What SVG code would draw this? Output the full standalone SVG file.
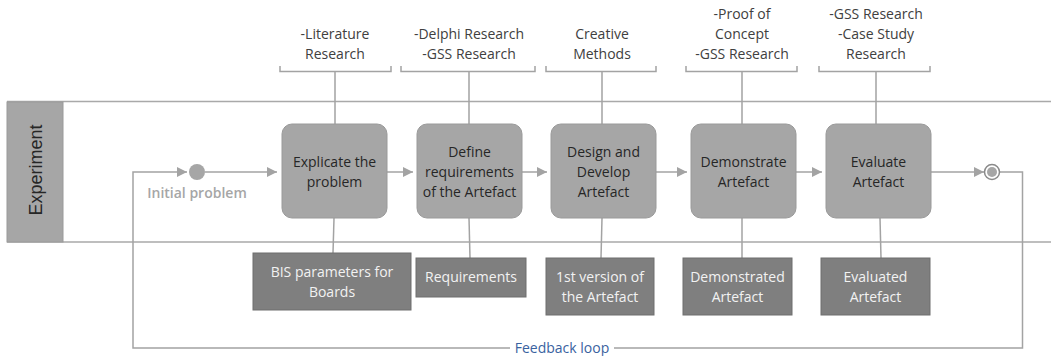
<svg xmlns="http://www.w3.org/2000/svg" width="1051" height="356" viewBox="0 0 1051 356">
  <style>
    .lane { stroke: #a9a9a9; stroke-width: 1.5; fill: none; }
    .wire { stroke: #a3a3a3; stroke-width: 1.5; fill: none; }
    .step { fill: #a6a6a6; stroke: #9a9a9a; stroke-width: 1; }
    .out { fill: #7f7f7f; stroke: #6f6f6f; stroke-width: 1; }
    .t { font-family: "Open Sans", "Noto Sans", sans-serif; font-size: 14px; text-anchor: middle; }
    .dark { fill: #262626; }
    .light { fill: #f2f2f2; }
    .note { fill: #404040; }
  </style>
  <defs>
    <marker id="arrow" viewBox="0 0 10 10" refX="10" refY="5" markerWidth="10" markerHeight="10" markerUnits="userSpaceOnUse" orient="auto">
      <path d="M0,0 L10,5 L0,10 z" fill="#a3a3a3"/>
    </marker>
  </defs>
  <rect width="1051" height="356" fill="#ffffff"/>

  <!-- swimlane -->
  <g id="lane">
    <line class="lane" x1="7" y1="101.5" x2="1051" y2="101.5"/>
    <line class="lane" x1="7" y1="242" x2="1051" y2="242"/>
    <rect x="7" y="102" width="56" height="140" fill="#a6a6a6" stroke="#9a9a9a"/>
    <text transform="translate(42 170) rotate(-90)" text-anchor="middle" font-family="Liberation Sans, Arial, sans-serif" font-size="18" fill="#262626">Experiment</text>
  </g>

  <!-- connectors -->
  <g id="connectors">
    <!-- feedback loop -->
    <polyline class="wire" points="992,172 1022.5,172 1022.5,348 614,348"/>
    <polyline class="wire" points="510,348 133,348 133,172 187,172" marker-end="url(#arrow)"/>
    <line class="wire" x1="205" y1="172" x2="277" y2="172" marker-end="url(#arrow)"/>
    <line class="wire" x1="387" y1="172" x2="413" y2="172" marker-end="url(#arrow)"/>
    <line class="wire" x1="522" y1="172" x2="547" y2="172" marker-end="url(#arrow)"/>
    <line class="wire" x1="656" y1="172" x2="687" y2="172" marker-end="url(#arrow)"/>
    <line class="wire" x1="796" y1="172" x2="822" y2="172" marker-end="url(#arrow)"/>
    <line class="wire" x1="931" y1="172" x2="984" y2="172" marker-end="url(#arrow)"/>
    <!-- method brackets -->
    <path class="wire" d="M280,66 V71.5 H391 V66 M335,71.5 V124"/>
    <path class="wire" d="M401,66 V71.5 H535 V66 M469,71.5 V124"/>
    <path class="wire" d="M546,66 V71.5 H656 V66 M602,71.5 V124"/>
    <path class="wire" d="M686,66 V71.5 H797 V66 M742,71.5 V124"/>
    <path class="wire" d="M819,66 V71.5 H930 V66 M876,71.5 V124"/>
    <!-- outputs -->
    <line class="wire" x1="334" y1="218" x2="333" y2="253"/>
    <line class="wire" x1="469" y1="218" x2="470" y2="258"/>
    <line class="wire" x1="602" y1="218" x2="601" y2="258"/>
    <line class="wire" x1="742" y1="218" x2="742" y2="258"/>
    <line class="wire" x1="880" y1="218" x2="881" y2="258"/>
    <text x="562" y="353" text-anchor="middle" font-family="Open Sans, Noto Sans, sans-serif" font-size="14" fill="#3a62a0">Feedback loop</text>
  </g>

  <!-- start / end events -->
  <g id="start">
    <circle cx="197" cy="172" r="8" fill="#a6a6a6"/>
    <text x="197" y="198" text-anchor="middle" font-family="Open Sans, Noto Sans, sans-serif" font-size="14" font-weight="600" fill="#a6a6a6">Initial problem</text>
  </g>
  <g id="end">
    <circle cx="992" cy="172" r="7.5" fill="#ffffff" stroke="#8a8a8a" stroke-width="1.5"/>
    <circle cx="992" cy="172" r="5" fill="#a6a6a6"/>
  </g>

  <!-- process steps -->
  <g id="explicate">
    <rect class="step" x="282" y="124" width="105" height="94" rx="10"/>
    <text class="t dark" x="334.5" y="167">Explicate the</text>
    <text class="t dark" x="334.5" y="187">problem</text>
  </g>
  <g id="define">
    <rect class="step" x="417" y="124" width="105" height="94" rx="10"/>
    <text class="t dark" x="469.5" y="157">Define</text>
    <text class="t dark" x="469.5" y="177">requirements</text>
    <text class="t dark" x="469.5" y="197">of the Artefact</text>
  </g>
  <g id="design">
    <rect class="step" x="551" y="124" width="105" height="94" rx="10"/>
    <text class="t dark" x="603.5" y="157">Design and</text>
    <text class="t dark" x="603.5" y="177">Develop</text>
    <text class="t dark" x="603.5" y="197">Artefact</text>
  </g>
  <g id="demonstrate">
    <rect class="step" x="691" y="124" width="105" height="94" rx="10"/>
    <text class="t dark" x="743.5" y="167">Demonstrate</text>
    <text class="t dark" x="743.5" y="187">Artefact</text>
  </g>
  <g id="evaluate">
    <rect class="step" x="826" y="124" width="105" height="94" rx="10"/>
    <text class="t dark" x="878.5" y="167">Evaluate</text>
    <text class="t dark" x="878.5" y="187">Artefact</text>
  </g>

  <!-- research methods -->
  <g id="m-literature">
    <text class="t note" x="335" y="39">-Literature</text>
    <text class="t note" x="335" y="59">Research</text>
  </g>
  <g id="m-delphi">
    <text class="t note" x="469" y="39">-Delphi Research</text>
    <text class="t note" x="469" y="59">-GSS Research</text>
  </g>
  <g id="m-creative">
    <text class="t note" x="602" y="39">Creative</text>
    <text class="t note" x="602" y="59">Methods</text>
  </g>
  <g id="m-proof">
    <text class="t note" x="742" y="19">-Proof of</text>
    <text class="t note" x="742" y="39">Concept</text>
    <text class="t note" x="742" y="59">-GSS Research</text>
  </g>
  <g id="m-gss">
    <text class="t note" x="876" y="19">-GSS Research</text>
    <text class="t note" x="876" y="39">-Case Study</text>
    <text class="t note" x="876" y="59">Research</text>
  </g>

  <!-- artefacts -->
  <g id="o-bis">
    <rect class="out" x="253" y="253" width="158" height="57"/>
    <text class="t light" x="332" y="277">BIS parameters for</text>
    <text class="t light" x="332" y="297">Boards</text>
  </g>
  <g id="o-req">
    <rect class="out" x="416" y="258" width="110" height="39"/>
    <text class="t light" x="471" y="282">Requirements</text>
  </g>
  <g id="o-first">
    <rect class="out" x="546" y="258" width="108" height="57"/>
    <text class="t light" x="600" y="282">1st version of</text>
    <text class="t light" x="600" y="302">the Artefact</text>
  </g>
  <g id="o-demo">
    <rect class="out" x="683" y="258" width="109" height="57"/>
    <text class="t light" x="737.5" y="282">Demonstrated</text>
    <text class="t light" x="737.5" y="302">Artefact</text>
  </g>
  <g id="o-eval">
    <rect class="out" x="821" y="258" width="109" height="57"/>
    <text class="t light" x="875.5" y="282">Evaluated</text>
    <text class="t light" x="875.5" y="302">Artefact</text>
  </g>
</svg>
